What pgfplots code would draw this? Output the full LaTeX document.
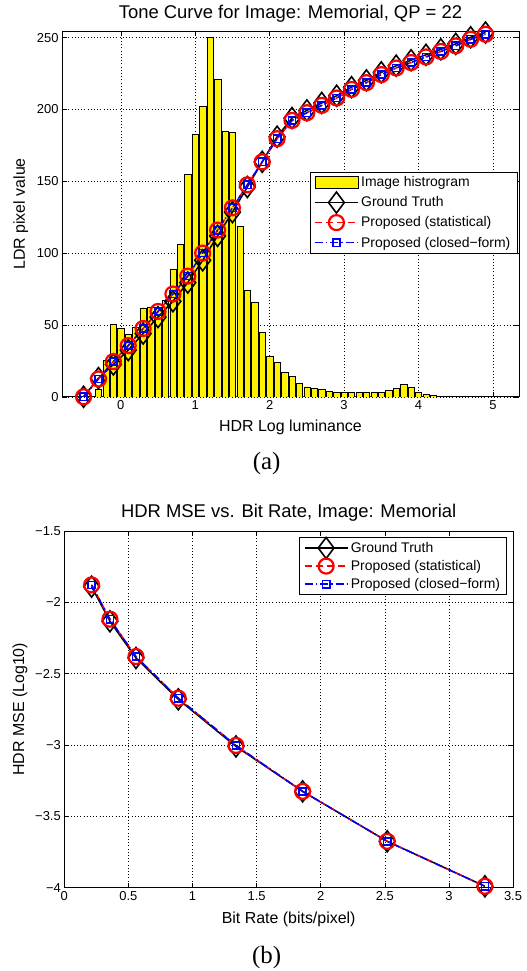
\documentclass[border=0pt]{standalone}
\usepackage{fontspec}
\setmainfont{Liberation Sans}
\newfontfamily\capfont{Liberation Serif}
\usepackage{pgfplots}
\pgfplotsset{compat=1.18}

\pgfplotsset{
  mat/.style={
    scale only axis,
    grid=major,
    grid style={black, dash pattern=on 0.6bp off 2.6bp, line width=0.5bp},
    tick align=inside,
    major tick length=5bp,
    tick style={black, line width=0.5bp},
    axis line style={line width=0.6bp},
    ticklabel style={font=\fontsize{13}{13}\selectfont},
    /pgf/number format/assume math mode=true,
    label style={font=\fontsize{16}{16}\selectfont},
    title style={font=\fontsize{18.5}{18.5}\selectfont, at={(0.5,1)}, anchor=base},
    legend style={font=\fontsize{14}{14}\selectfont, draw=black, line width=0.8bp,
      anchor=north east, inner ysep=2bp, inner xsep=4bp,
      nodes={inner sep=2.5bp}},
    legend cell align=left,
  },
  mline/.style={legend image code/.code={
      \draw[line width=1.5bp] (0bp,0bp) -- (43bp,0bp);
      \pgfinterruptboundingbox
      \draw[line width=1.6bp] plot coordinates {(21.5bp,0bp)};
      \endpgfinterruptboundingbox
      \path[draw=none, fill=none] (0bp,-5bp) rectangle (43bp,5bp);}},
  gt/.style={black, solid, line width=1.5bp, mark=diamond, mark size=10.5bp,
    mark options={solid, fill=none, line width=1.6bp}, mline},
  st/.style={red, dash pattern=on 7bp off 4bp, line width=1.5bp, mark=o,
    mark size=7.5bp, mark options={solid, line width=2.2bp}, mline},
  cf/.style={blue, dash pattern=on 8bp off 3bp on 1.5bp off 3bp, line width=1.5bp,
    mark=square, mark size=3.6bp, mark options={solid, line width=1.6bp}, mline},
}

\begin{document}
\begin{tikzpicture}
\useasboundingbox (0bp,0bp) rectangle (527bp,971bp);

% (a) tone curve
\begin{axis}[mat, at={(62bp,574.2bp)}, anchor=south west,
  width=457bp, height=365.7bp,
  xmin=-0.79, xmax=5.35, ymin=0, ymax=254.5,
  xtick={0,1,2,3,4,5}, ytick={0,50,100,150,200,250},
  title={Tone Curve for Image: Memorial, QP = 22}, title style={yshift=6.7bp},
  xlabel={HDR Log luminance},
  xlabel style={at={(axis description cs:0.5,0)}, anchor=base, yshift=-34.5bp},
  ylabel={LDR pixel value},
  ylabel style={at={(axis description cs:-0.081,0.5)}, anchor=base},
  legend style={at={(0.9963,0.6155)}, row sep=3.5bp},
]
\addplot[ybar, bar width=0.085, bar shift=0pt, fill=yellow, draw=black, line width=0.4bp,
  legend image code/.code={\draw[fill=yellow, draw=black, line width=0.6bp] (0bp,-6bp) rectangle (43bp,6bp);}]
  coordinates {
  (-0.3,5) (-0.2,25.5) (-0.1,50.5) (0.0,48) (0.1,43.5) (0.2,48.5) (0.3,62) (0.4,62.5)
  (0.5,62) (0.6,67) (0.7,89) (0.8,106) (0.9,155) (1.0,183) (1.1,202) (1.2,250)
  (1.3,221) (1.4,185) (1.5,184) (1.6,119) (1.7,74) (1.8,66) (1.9,45) (2.0,28.5)
  (2.1,24) (2.2,17) (2.3,14) (2.4,9.5) (2.5,7) (2.6,6) (2.7,5.5) (2.8,4)
  (2.9,3.3) (3.0,3) (3.1,2.9) (3.2,2.9) (3.3,3.5) (3.4,3.5) (3.5,3) (3.6,4.3)
  (3.7,5.7) (3.8,8.5) (3.9,6.6) (4.0,3.3) (4.1,1.7) (4.2,1) (4.3,0.6) (4.4,0.5)
  (4.5,0.4) (4.6,0.4) (4.7,0.3) (4.8,0.2) (4.9,0.2) (5.0,0.2) (5.1,0.2) (5.2,0.2)
  };
\addlegendentry{Image histrogram}
\addplot[gt] coordinates {
  (-0.5,0) (-0.3,13) (-0.1,22.5) (0.1,32.5) (0.3,44) (0.5,55.5) (0.7,66.5)
  (0.9,79.5) (1.1,95) (1.3,112) (1.5,128.5) (1.7,146) (1.9,163.5) (2.1,181)
  (2.3,194) (2.5,199.3) (2.7,204.5) (2.9,209.5) (3.1,215.5) (3.3,220.2)
  (3.5,225.8) (3.7,230.4) (3.9,234.2) (4.1,238) (4.3,241.8) (4.5,245.6)
  (4.7,250.2) (4.9,253.5)
  };
\addlegendentry{Ground Truth}
\addplot[st] coordinates {
  (-0.5,0) (-0.3,12.4) (-0.1,24.5) (0.1,35.6) (0.3,47.5) (0.5,59.4) (0.7,71.5)
  (0.9,84) (1.1,100) (1.3,116) (1.5,131.5) (1.7,147.5) (1.9,163.5) (2.1,179.6)
  (2.3,192.3) (2.5,197.7) (2.7,202.8) (2.9,207.9) (3.1,213.9) (3.3,218.6)
  (3.5,224.2) (3.7,228.8) (3.9,232.6) (4.1,236.5) (4.3,240.3) (4.5,244.2)
  (4.7,248.8) (4.9,252.3)
  };
\addlegendentry{Proposed (statistical)}
\addplot[cf] coordinates {
  (-0.5,0) (-0.3,12.4) (-0.1,24.5) (0.1,35.6) (0.3,47.5) (0.5,59.4) (0.7,71.5)
  (0.9,84) (1.1,100) (1.3,116) (1.5,131.5) (1.7,147.5) (1.9,163.5) (2.1,179.6)
  (2.3,192.3) (2.5,197.7) (2.7,202.8) (2.9,207.9) (3.1,213.9) (3.3,218.6)
  (3.5,224.2) (3.7,228.8) (3.9,232.6) (4.1,236.5) (4.3,240.3) (4.5,244.2)
  (4.7,248.8) (4.9,252.3)
  };
\addlegendentry{Proposed (closed−form)}
\end{axis}

% (b) rate-distortion
\begin{axis}[mat, at={(64.3bp,83.3bp)}, anchor=south west,
  width=448.7bp, height=356.7bp,
  xmin=0, xmax=3.5, ymin=-4, ymax=-1.5,
  xtick={0,0.5,1,1.5,2,2.5,3,3.5},
  ytick={-4,-3.5,-3,-2.5,-2,-1.5},
  yticklabels={−4,−3.5,−3,−2.5,−2,−1.5},
  title={HDR MSE vs. Bit Rate, Image: Memorial}, title style={yshift=7.7bp},
  xlabel={Bit Rate (bits/pixel)},
  xlabel style={at={(axis description cs:0.5,0)}, anchor=base, yshift=-35.6bp},
  ylabel={HDR MSE (Log10)},
  ylabel style={at={(axis description cs:-0.0898,0.5)}, anchor=base},
  legend style={at={(0.9866,0.9823)}, row sep=1.5bp},
]
\addplot[gt] coordinates {
  (0.213,-1.89) (0.356,-2.133) (0.559,-2.39) (0.889,-2.68) (1.339,-3.01)
  (1.859,-3.325) (2.519,-3.675) (3.281,-3.99)
  };
\addlegendentry{Ground Truth}
\addplot[st] coordinates {
  (0.213,-1.878) (0.356,-2.118) (0.559,-2.38) (0.889,-2.672) (1.339,-3.003)
  (1.859,-3.325) (2.519,-3.675) (3.281,-3.99)
  };
\addlegendentry{Proposed (statistical)}
\addplot[cf] coordinates {
  (0.213,-1.878) (0.356,-2.118) (0.559,-2.38) (0.889,-2.672) (1.339,-3.003)
  (1.859,-3.325) (2.519,-3.675) (3.281,-3.99)
  };
\addlegendentry{Proposed (closed−form)}
\end{axis}

\node[font=\capfont\fontsize{25}{25}\selectfont] at (266.7bp,507bp) {(a)};
\node[font=\capfont\fontsize{25}{25}\selectfont] at (266.7bp,13.5bp) {(b)};
\end{tikzpicture}
\end{document}
